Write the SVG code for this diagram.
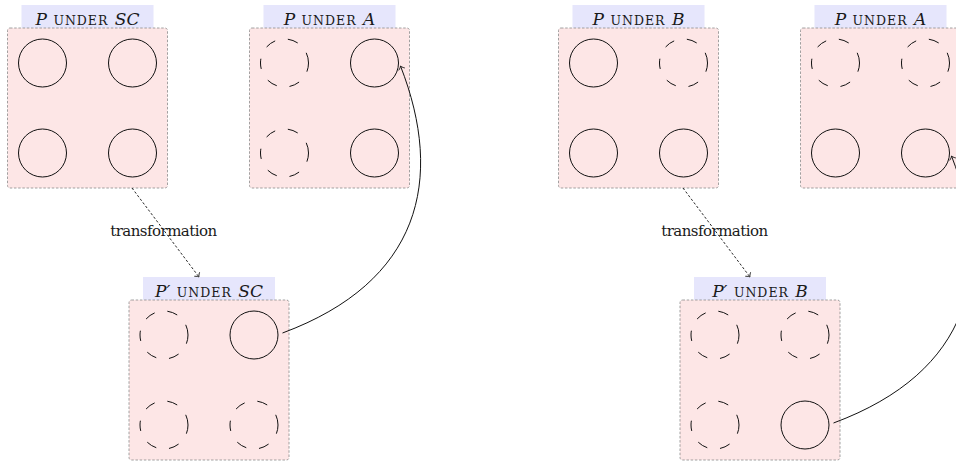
<svg xmlns="http://www.w3.org/2000/svg" width="956" height="464" viewBox="0 0 956 464">
  <style>
    .box { fill: #fde6e6; stroke: #8a8a8a; stroke-width: 0.8; stroke-dasharray: 2.5 1.7; }
    .tag { fill: #e6e6fc; stroke: none; }
    .c { fill: none; stroke: #111; stroke-width: 1; }
    .d { fill: none; stroke: #111; stroke-width: 1; stroke-dasharray: 10.5 13; }
    text { font-family: "DejaVu Serif", "Liberation Serif", serif; fill: #1a1a1a; }
    .lbl { font-size: 17px; text-anchor: middle; word-spacing: 1px; }
    .it { font-style: italic; }
    .sc { font-size: 12.5px; letter-spacing: 1px; }
    .note { font-size: 15px; text-anchor: middle; }
    .edge { fill: none; stroke: #111; stroke-width: 1; marker-end: url(#tip); }
    .dash { stroke-width: 0.9; stroke-dasharray: 2.5 2; }
  </style>
  <defs>
    <marker id="tip" viewBox="-4 -4 5 8" refX="0" refY="0" markerWidth="5" markerHeight="8" markerUnits="userSpaceOnUse" orient="auto" overflow="visible">
      <path d="M-3.2,-3 C-2,-1.2 -0.6,-0.3 0,0 C-0.6,0.3 -2,1.2 -3.2,3" fill="none" stroke="#111" stroke-width="0.8" stroke-dasharray="none" stroke-linecap="round"/>
    </marker>
    <!-- dashed ring, traced counter-clockwise from 3 o'clock -->
    <path id="ring" d="M24,0 A24,24 0 1 0 -24,0 A24,24 0 1 0 24,0"/>
    <rect id="frame" x="0" y="0" width="160" height="160" rx="2.5" ry="2.5"/>
    <rect id="tagbg" x="14" y="-23" width="132" height="23"/>
  </defs>

  <!-- left scenario -->
  <g id="p-sc" transform="translate(7.5,28)">
    <use href="#tagbg" class="tag"/>
    <use href="#frame" class="box"/>
    <text class="lbl" x="80" y="-3"><tspan class="it">P</tspan> <tspan class="sc">UNDER</tspan> <tspan class="it">SC</tspan></text>
    <circle class="c" cx="35" cy="35" r="24"/>
    <circle class="c" cx="125" cy="35" r="24"/>
    <circle class="c" cx="35" cy="125" r="24"/>
    <circle class="c" cx="125" cy="125" r="24"/>
  </g>

  <g id="p-a-left" transform="translate(249.5,28)">
    <use href="#tagbg" class="tag"/>
    <use href="#frame" class="box"/>
    <text class="lbl" x="80" y="-3"><tspan class="it">P</tspan> <tspan class="sc">UNDER</tspan> <tspan class="it">A</tspan></text>
    <use href="#ring" class="d" x="35" y="35"/>
    <circle class="c" cx="125" cy="35" r="24"/>
    <use href="#ring" class="d" x="35" y="125"/>
    <circle class="c" cx="125" cy="125" r="24"/>
  </g>

  <g id="pp-sc" transform="translate(129,300)">
    <use href="#tagbg" class="tag"/>
    <use href="#frame" class="box"/>
    <text class="lbl" x="80" y="-3"><tspan class="it">P′</tspan> <tspan class="sc">UNDER</tspan> <tspan class="it">SC</tspan></text>
    <use href="#ring" class="d" x="35" y="35"/>
    <circle class="c" cx="125" cy="35" r="24"/>
    <use href="#ring" class="d" x="35" y="125"/>
    <use href="#ring" class="d" x="125" y="125"/>
  </g>

  <!-- right scenario -->
  <g id="p-b" transform="translate(558.5,28)">
    <use href="#tagbg" class="tag"/>
    <use href="#frame" class="box"/>
    <text class="lbl" x="80" y="-3"><tspan class="it">P</tspan> <tspan class="sc">UNDER</tspan> <tspan class="it">B</tspan></text>
    <circle class="c" cx="35" cy="35" r="24"/>
    <use href="#ring" class="d" x="125" y="35"/>
    <circle class="c" cx="35" cy="125" r="24"/>
    <circle class="c" cx="125" cy="125" r="24"/>
  </g>

  <g id="p-a-right" transform="translate(800.5,28)">
    <use href="#tagbg" class="tag"/>
    <use href="#frame" class="box"/>
    <text class="lbl" x="80" y="-3"><tspan class="it">P</tspan> <tspan class="sc">UNDER</tspan> <tspan class="it">A</tspan></text>
    <use href="#ring" class="d" x="35" y="35"/>
    <use href="#ring" class="d" x="125" y="35"/>
    <circle class="c" cx="35" cy="125" r="24"/>
    <circle class="c" cx="125" cy="125" r="24"/>
  </g>

  <g id="pp-b" transform="translate(680,300)">
    <use href="#tagbg" class="tag"/>
    <use href="#frame" class="box"/>
    <text class="lbl" x="80" y="-3"><tspan class="it">P′</tspan> <tspan class="sc">UNDER</tspan> <tspan class="it">B</tspan></text>
    <use href="#ring" class="d" x="35" y="35"/>
    <use href="#ring" class="d" x="125" y="35"/>
    <use href="#ring" class="d" x="35" y="125"/>
    <circle class="c" cx="125" cy="125" r="24"/>
  </g>

  <!-- connectors -->
  <g id="connectors">
    <path class="edge dash" d="M132,188 L199,277"/>
    <text class="note" x="163.7" y="236" textLength="107" lengthAdjust="spacing">transformation</text>
    <path class="edge" d="M282.5,333 C420,282 445,180 400.5,66"/>

    <path class="edge dash" d="M683,188 L750,277"/>
    <text class="note" x="714.7" y="236" textLength="107" lengthAdjust="spacing">transformation</text>
    <path class="edge" d="M833.5,423 C971,372 996,270 951.5,156"/>
  </g>
</svg>
